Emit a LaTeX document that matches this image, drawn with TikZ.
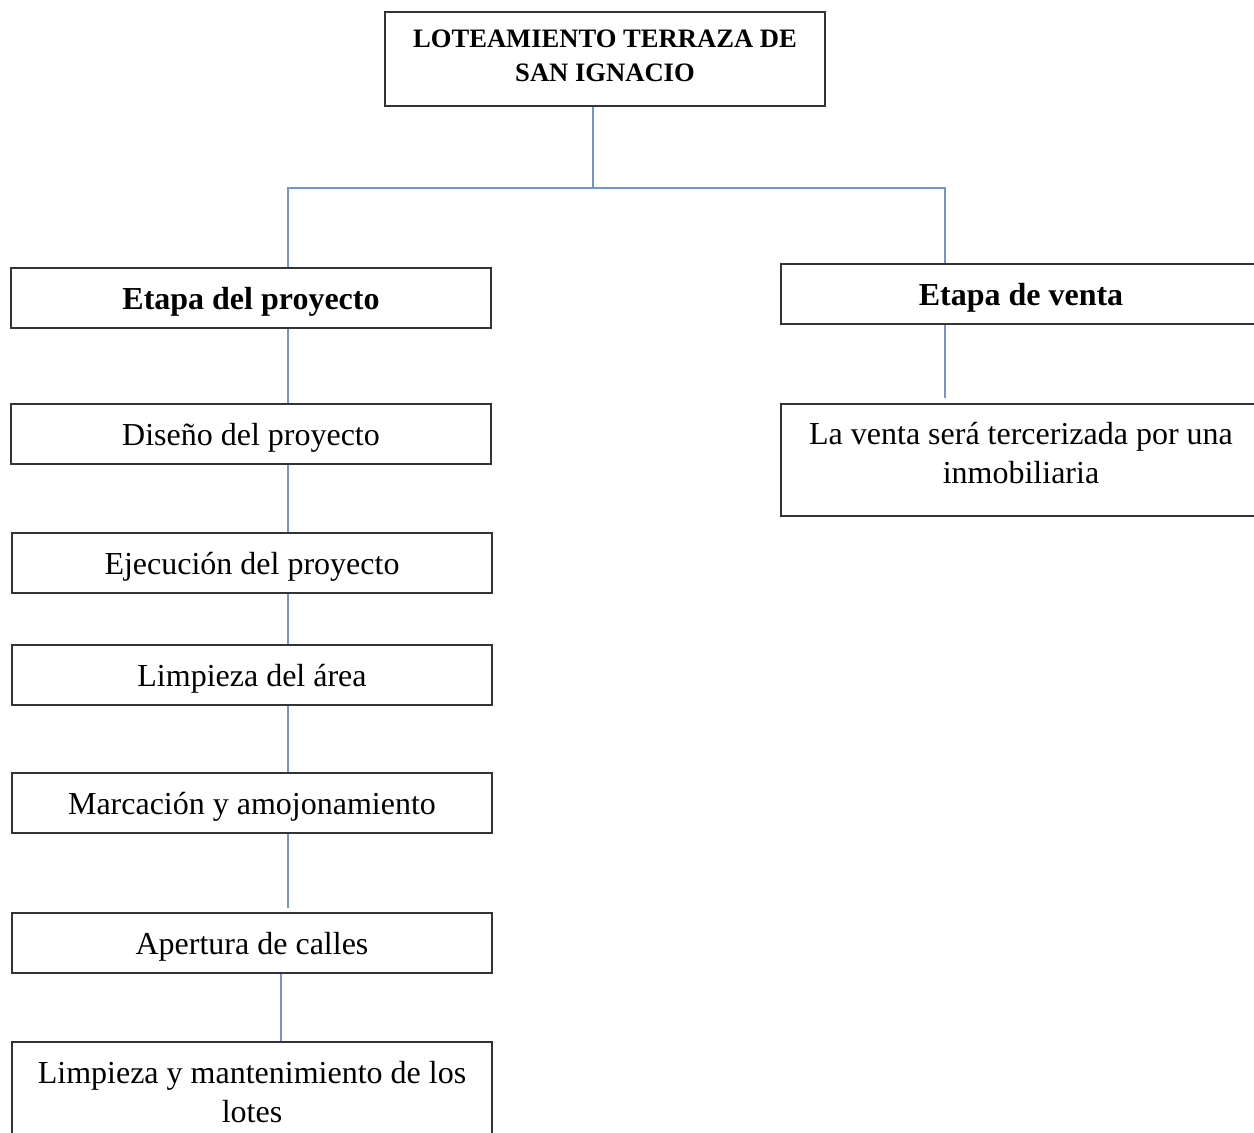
\documentclass[tikz,border=0pt]{standalone}
\usepackage{fontspec}
\setmainfont{Liberation Serif}
\usetikzlibrary{positioning}
\definecolor{linkblue}{RGB}{114,148,212}

\begin{document}
\begin{tikzpicture}[x=0.5pt, y=-0.5pt, align=center]
    \tikzset{
        n/.style        =   { rectangle
                            , text centered
                            , draw=black!80
                            , line width=0.7pt
                            , minimum width=240pt
                            , minimum height=30pt
                            , inner sep=2pt
                            , text height=14pt
                            , text depth=2.6pt
                            , font=\fontsize{16}{19.5}\selectfont
        }
        , head/.style   =   { n
                            , font=\fontsize{16}{19.5}\selectfont\bfseries
        }
        , two/.style    =   { n
                            , text height=
                            , text depth=#1
        }
        , title/.style  =   { two=3pt
                            , minimum width=220pt
                            , minimum height=47pt
                            , font=\fontsize{13.3}{17}\selectfont\bfseries
        }
        , link/.style   =   { draw=linkblue
                            , line width=0.65pt
        }
    }
    \useasboundingbox (0,0) rectangle (1254,1132);

    \node(top)[title] at (605,59)   {LOTEAMIENTO TERRAZA DE\\SAN IGNACIO};
    \node(proy)[head] at (251,298)  {Etapa del proyecto};
    \node(venta)[head] at (1021,294) {Etapa de venta};
    \node(inmo)[two=7pt, minimum height=56pt] at (1021,460)
                                    {La venta será tercerizada por una\\inmobiliaria};
    \node(dis)[n] at (251,434)      {Diseño del proyecto};
    \node(eje)[n] at (252,563)      {Ejecución del proyecto};
    \node(lim)[n] at (252,675)      {Limpieza del área};
    \node(mar)[n] at (252,803)      {Marcación y amojonamiento};
    \node(ape)[n] at (252,943)      {Apertura de calles};
    \node(man)[two=5pt, minimum height=55pt] at (252,1097)
                                    {Limpieza y mantenimiento de los\\lotes};

    \coordinate(split) at (593,188);
    \coordinate(lcol)  at (288,0);
    \coordinate(rcol)  at (945,0);
    \coordinate(bcol)  at (281,0);

    \draw[link] (top.south -| split) -- (split);
    \draw[link] (split) -| (proy.north -| lcol);
    \draw[link] (split) -| (venta.north -| rcol);
    \draw[link, shorten >=2.5pt] (venta.south -| rcol) -- (inmo.north -| rcol);
    \foreach \a/\b in {proy/dis, dis/eje, eje/lim, lim/mar}
        \draw[link] (\a.south -| lcol) -- (\b.north -| lcol);
    \draw[link, shorten >=2pt] (mar.south -| lcol) -- (ape.north -| lcol);
    \draw[link] (ape.south -| bcol) -- (man.north -| bcol);
\end{tikzpicture}
\end{document}
